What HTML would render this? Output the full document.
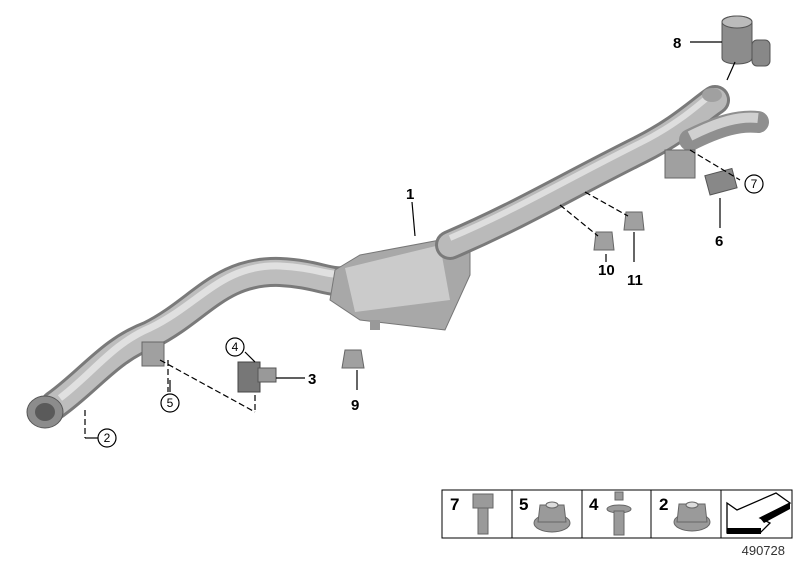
<!DOCTYPE html>
<html><head><style>
body{margin:0;background:#fff;width:800px;height:560px;overflow:hidden;font-family:"Liberation Sans",Arial,sans-serif}
</style></head><body>
<svg width="800" height="560" viewBox="0 0 800 560" xmlns="http://www.w3.org/2000/svg" font-family="Liberation Sans, Arial, sans-serif">
<!-- main pipe -->
<path d="M55,405 C90,380 110,350 150,335 C200,310 220,270 280,272 C320,274 330,285 350,280" fill="none" stroke="#7a7a7a" stroke-width="30" stroke-linecap="round"/>
<path d="M55,405 C90,380 110,350 150,335 C200,310 220,270 280,272 C320,274 330,285 350,280" fill="none" stroke="#bdbdbd" stroke-width="24" stroke-linecap="round"/>
<path d="M60,398 C92,374 112,344 150,328 C200,304 222,264 280,266 C320,268 330,278 350,273" fill="none" stroke="#e0e0e0" stroke-width="7"/>
<!-- catalytic converter -->
<path d="M335,270 L360,255 L440,240 L470,230 L470,275 L445,330 L360,320 L330,300 Z" fill="#a8a8a8" stroke="#777" stroke-width="1"/>
<path d="M345,268 L440,245 L450,300 L355,312 Z" fill="#cbcbcb"/>
<!-- rear pipe -->
<path d="M450,245 C520,215 560,190 640,150 C680,130 700,110 715,100" fill="none" stroke="#7a7a7a" stroke-width="30" stroke-linecap="round"/>
<path d="M450,245 C520,215 560,190 640,150 C680,130 700,110 715,100" fill="none" stroke="#bababa" stroke-width="24" stroke-linecap="round"/>
<path d="M450,238 C520,208 560,183 640,143 C680,123 700,103 712,94" fill="none" stroke="#dedede" stroke-width="6"/>
<path d="M690,140 C720,125 740,120 758,122" fill="none" stroke="#8f8f8f" stroke-width="22" stroke-linecap="round"/>
<path d="M690,136 C720,121 740,116 758,118" fill="none" stroke="#d0d0d0" stroke-width="10"/>
<ellipse cx="712" cy="95" rx="10" ry="7" fill="#a0a0a0"/>
<!-- front flange -->
<ellipse cx="45" cy="412" rx="18" ry="16" fill="#8c8c8c" stroke="#555"/>
<ellipse cx="45" cy="412" rx="10" ry="9" fill="#5a5a5a"/>
<!-- hangers -->
<rect x="142" y="342" width="22" height="24" fill="#a0a0a0" stroke="#666"/>
<rect x="665" y="150" width="30" height="28" fill="#a0a0a0" stroke="#666"/>
<rect x="370" y="320" width="10" height="10" fill="#999"/>
<!-- parts -->
<path d="M722,22 C722,14 752,14 752,22 L752,58 C752,66 722,66 722,58 Z" fill="#8c8c8c" stroke="#555"/>
<ellipse cx="737" cy="22" rx="15" ry="6" fill="#bbb" stroke="#555"/>
<rect x="752" y="40" width="18" height="26" rx="5" fill="#888" stroke="#555"/>
<rect x="707" y="172" width="28" height="20" fill="#888" stroke="#555" transform="rotate(-15 720 182)"/>
<rect x="238" y="362" width="22" height="30" fill="#777" stroke="#444"/>
<rect x="258" y="368" width="18" height="14" fill="#999" stroke="#555"/>
<path d="M345,350 L361,350 L364,368 L342,368 Z" fill="#a0a0a0" stroke="#666"/>
<path d="M596,232 L612,232 L614,250 L594,250 Z" fill="#a0a0a0" stroke="#666"/>
<path d="M626,212 L642,212 L644,230 L624,230 Z" fill="#a0a0a0" stroke="#666"/>
<!-- leader lines -->
<g stroke="#000" stroke-width="1.2" fill="none">
<line x1="412" y1="202" x2="415" y2="236"/>
<line x1="690" y1="42" x2="722" y2="42"/>
<line x1="735" y1="62" x2="727" y2="80"/>
<line x1="606" y1="254" x2="606" y2="262"/>
<line x1="634" y1="232" x2="634" y2="262"/>
<line x1="720" y1="198" x2="720" y2="228"/>
<line x1="357" y1="370" x2="357" y2="390"/>
<line x1="276" y1="378" x2="305" y2="378"/>
<line x1="245" y1="352" x2="255" y2="362"/>
<line x1="170" y1="380" x2="170" y2="392"/>
<line x1="85" y1="438" x2="100" y2="438"/>
<g stroke-dasharray="6,3">
<line x1="160" y1="360" x2="255" y2="412"/>
<line x1="255" y1="395" x2="255" y2="412"/>
<line x1="168" y1="360" x2="168" y2="392"/>
<line x1="85" y1="410" x2="85" y2="438"/>
<line x1="690" y1="150" x2="740" y2="180"/>
<line x1="560" y1="205" x2="598" y2="236"/>
<line x1="585" y1="192" x2="628" y2="216"/>
</g>
</g>
<g font-weight="bold" font-size="15" fill="#000">
<text x="406" y="199">1</text>
<text x="673" y="48">8</text>
<text x="715" y="246">6</text>
<text x="598" y="275">10</text>
<text x="627" y="285">11</text>
<text x="351" y="410">9</text>
<text x="308" y="384">3</text>
</g>
<g fill="#fff" stroke="#000" stroke-width="1.2">
<circle cx="754" cy="184" r="9"/><circle cx="235" cy="347" r="9"/><circle cx="170" cy="403" r="9"/><circle cx="107" cy="438" r="9"/>
</g>
<g font-size="12" fill="#000" text-anchor="middle">
<text x="754" y="188">7</text><text x="235" y="351">4</text><text x="170" y="407">5</text><text x="107" y="442">2</text>
</g>
<!-- legend -->
<rect x="442" y="490" width="350" height="48" fill="#fff" stroke="#000" stroke-width="1"/>
<g stroke="#000"><line x1="512" y1="490" x2="512" y2="538"/><line x1="582" y1="490" x2="582" y2="538"/><line x1="651" y1="490" x2="651" y2="538"/><line x1="721" y1="490" x2="721" y2="538"/></g>
<g font-weight="bold" font-size="17" fill="#000">
<text x="450" y="510">7</text><text x="519" y="510">5</text><text x="589" y="510">4</text><text x="659" y="510">2</text>
</g>
<g fill="#9a9a9a" stroke="#666">
<rect x="473" y="494" width="20" height="14"/><rect x="478" y="508" width="10" height="26"/>
<ellipse cx="552" cy="523" rx="18" ry="9"/><path d="M540,505 L564,505 L566,522 L538,522 Z"/><ellipse cx="552" cy="505" rx="6" ry="3" fill="#ddd"/>
<rect x="615" y="492" width="8" height="8"/><ellipse cx="619" cy="509" rx="12" ry="4"/><rect x="614" y="511" width="10" height="24"/>
<ellipse cx="692" cy="522" rx="18" ry="9"/><path d="M679,504 L705,504 L707,522 L677,522 Z"/><ellipse cx="692" cy="505" rx="6" ry="3" fill="#ddd"/>
</g>
<path d="M727,503 L737,510 L776,493 L790,503 L760,518 L770,523 L760,533 L727,533 Z" fill="#fff" stroke="#000" stroke-width="1.3"/>
<rect x="727" y="528" width="34" height="6" fill="#000"/>
<path d="M760,518 L790,503 L790,509 L764,523 Z" fill="#000"/>
<text x="785" y="555" font-size="13" fill="#333" text-anchor="end">490728</text>
</svg>
</body></html>
